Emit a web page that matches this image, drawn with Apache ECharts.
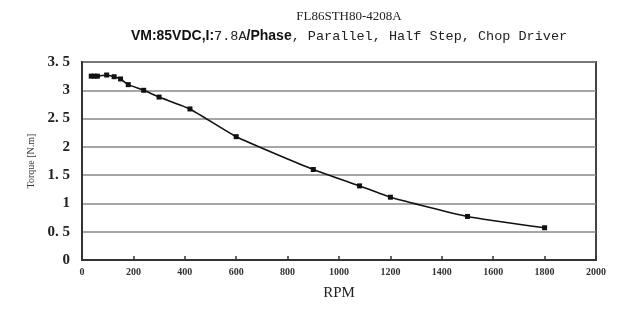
<!DOCTYPE html>
<html>
<head>
<meta charset="utf-8">
<script src="https://cdn.jsdelivr.net/npm/echarts@6/dist/echarts.min.js"></script>
<style>
html, body { margin: 0; padding: 0; background: #fff; }
#chart { width: 624px; height: 310px; }
</style>
</head>
<body>
<div id="chart"></div>
<script>
// torque curve
var rpm = [36, 48, 60, 96, 125, 150, 180, 240, 300, 420, 600, 900, 1080, 1200, 1500, 1800];
var torque = [3.25, 3.25, 3.25, 3.27, 3.24, 3.2, 3.1, 3.0, 2.88, 2.67, 2.18, 1.6, 1.31, 1.11, 0.77, 0.57];

var chart = echarts.init(document.getElementById('chart'));

var points = [];
for (var i = 0; i < rpm.length; i++) {
    points.push([rpm[i], torque[i]]);
}

var option = {
    animation: false,
    backgroundColor: '#fff',
    title: [
        {
            text: 'FL86STH80-4208A',
            left: 344,
            textAlign: 'center',
            top: 5,
            textStyle: {
                fontFamily: 'Liberation Serif',
                fontSize: 13,
                fontWeight: 'normal',
                color: '#222'
            }
        },
        {
            text: '{b|VM:85VDC,I:}{m|7.8A}{b|/Phase}{m|, Parallel, Half Step, Chop Driver}',
            left: 344,
            textAlign: 'center',
            top: 24,
            textStyle: {
                rich: {
                    b: { fontFamily: 'Liberation Sans', fontWeight: 'bold', fontSize: 14, color: '#111' },
                    m: { fontFamily: 'Liberation Mono', fontWeight: 'normal', fontSize: 13.5, color: '#222' }
                }
            }
        }
    ],
    grid: {
        left: 82,
        right: 28,
        top: 62,
        bottom: 50,
        show: true,
        borderColor: '#444',
        borderWidth: 2,
        backgroundColor: '#fff'
    },
    xAxis: {
        type: 'value',
        min: 0,
        max: 2000,
        interval: 200,
        name: 'RPM',
        nameLocation: 'middle',
        nameGap: 26,
        nameTextStyle: { fontFamily: 'Liberation Serif', fontSize: 15, color: '#222' },
        axisLine: { lineStyle: { color: '#333', width: 2 } },
        axisTick: { inside: true, length: 4, lineStyle: { color: '#333', width: 1.5 } },
        axisLabel: {
            fontFamily: 'Liberation Serif',
            fontWeight: 'bold',
            fontSize: 10,
            color: '#333',
            margin: 7,
            formatter: function (v) { return String(v); }
        },
        splitLine: { show: false }
    },
    yAxis: {
        type: 'value',
        min: 0,
        max: 3.5,
        interval: 0.5,
        name: 'Torque [N.m]',
        nameLocation: 'middle',
        nameGap: 46,
        nameTextStyle: { fontFamily: 'Liberation Serif', fontSize: 10, color: '#333' },
        axisLine: { show: true, lineStyle: { color: '#333', width: 2 } },
        axisTick: { show: false },
        axisLabel: {
            fontFamily: 'Liberation Serif',
            fontWeight: 'bold',
            fontSize: 15,
            color: '#222',
            margin: 12,
            formatter: function (v) { return String(v).replace('.', '. '); }
        },
        splitLine: { show: true, lineStyle: { color: '#888', width: 1.5 } }
    },
    series: [
        {
            type: 'line',
            data: points,
            smooth: 0.15,
            symbol: 'rect',
            symbolSize: 5,
            itemStyle: { color: '#111' },
            lineStyle: { color: '#111', width: 1.6 }
        }
    ]
};

chart.setOption(option);
</script>
</body>
</html>
